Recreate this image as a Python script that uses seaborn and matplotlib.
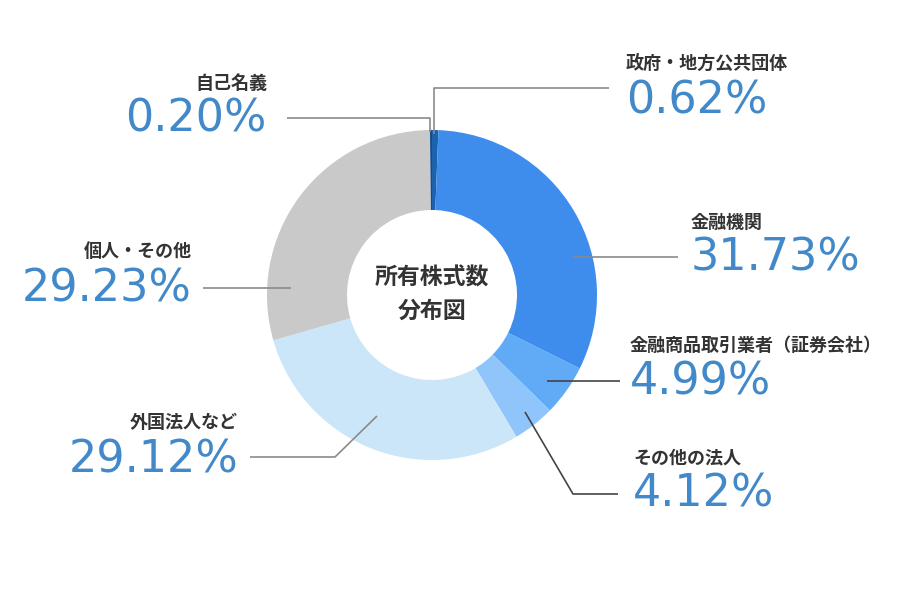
import matplotlib.pyplot as plt
import seaborn as sns

# data, clockwise from 12 o'clock
categories = ['政府・地方公共団体', '金融機関', '金融商品取引業者（証券会社）',
              'その他の法人', '外国法人など', '個人・その他', '自己名義']
shares = [0.62, 31.73, 4.99, 4.12, 29.12, 29.23, 0.20]
colors = ['#1d62ad', '#3e8ded', '#60aaf6', '#8fc5fb', '#cbe6f9', '#c9c9c9', '#174c8a']
center_title = '所有株式数\n分布図'

sns.set_theme(style='white')
plt.rcParams['font.family'] = ['Noto Sans CJK JP', 'DejaVu Sans']

W, H = 900, 590
fig = plt.figure(figsize=(W / 100, H / 100), dpi=100)
ax = fig.add_axes([0, 0, 1, 1])

# donut (pixel-like coords, y measured from the bottom)
cx, cy = 432, H - 295
ax.pie(shares, colors=colors, startangle=90, counterclock=False,
       radius=165, center=(cx, cy),
       wedgeprops=dict(width=80, linewidth=0))

ax.text(cx, cy, center_title, ha='center', va='center', fontsize=16.5,
        color='#333333', fontweight='bold', linespacing=1.55)

# label layout: text x, alignment, label y, value y (image coords, y down),
# leader line path, line colour
layout = [
    (626, 'left', 63, 101, [(434, 134), (434, 88), (609, 88)], '#8a8a8a'),
    (691, 'left', 222, 258, [(573, 257), (678, 257)], '#8a8a8a'),
    (630, 'left', 345, 382, [(547, 381), (620, 381)], '#444444'),
    (633, 'left', 458, 494, [(525, 412), (573, 494), (618, 494)], '#444444'),
    (238, 'right', 423, 460, [(377, 416), (335, 457), (250, 457)], '#8a8a8a'),
    (192, 'right', 251, 289, [(291, 288), (203, 288)], '#8a8a8a'),
    (267, 'right', 83, 119, [(287, 118), (430, 118), (430, 132)], '#8a8a8a'),
]

for cat, val, (tx, ha, ly, vy, path, lc) in zip(categories, shares, layout):
    xs = [p[0] for p in path]
    ys = [H - p[1] for p in path]
    ax.plot(xs, ys, color=lc, linewidth=1.2, solid_capstyle='butt')
    ax.text(tx, H - ly, cat, ha=ha, va='center', fontsize=13,
            color='#333333', fontweight='bold')
    ax.text(tx, H - vy, f'{val:.2f}%', ha=ha, va='center', fontsize=32,
            color='#4289c9', family=['DejaVu Sans'])

ax.set_xlim(0, W)
ax.set_ylim(0, H)
ax.set_aspect('equal')
ax.axis('off')

plt.savefig('out.png', dpi=100, facecolor='white')
